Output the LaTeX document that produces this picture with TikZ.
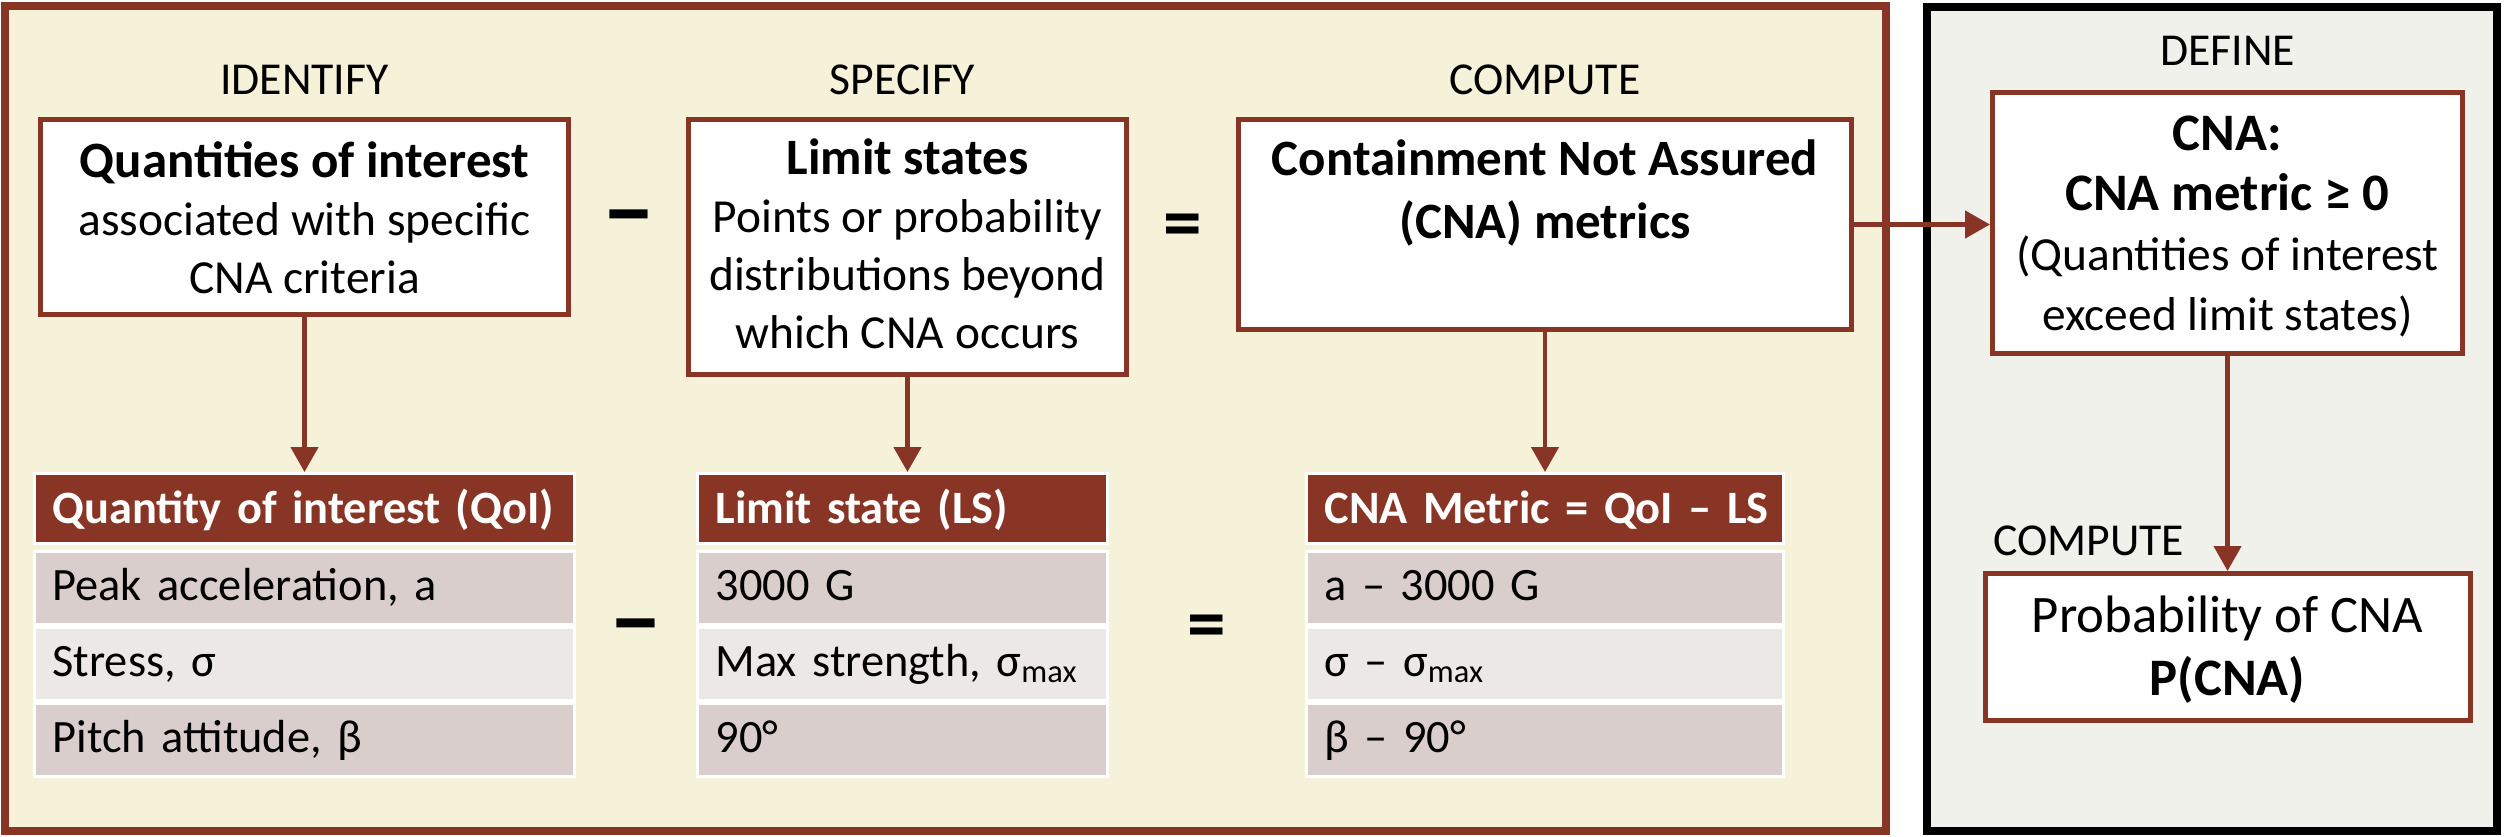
\documentclass[tikz,border=0pt]{standalone}
\usepackage{fontspec}
\setmainfont{Carlito}
\usetikzlibrary{arrows.meta,calc,positioning}
\definecolor{cnabrown}{RGB}{136,53,38}
\definecolor{cream}{RGB}{246,241,217}
\definecolor{paleGrey}{RGB}{240,241,235}
\definecolor{rowdark}{RGB}{218,206,204}
\definecolor{rowlight}{RGB}{236,232,231}
\newcommand{\boxtitle}{\fontsize{14.5}{16.5}\selectfont\bfseries}
\tikzset{
  box/.style={draw=cnabrown, line width=0.5mm, fill=white, align=center, inner xsep=0pt, inner ysep=0pt, font=\fontsize{13.5}{16.5}\selectfont},
  stage/.style={anchor=base, font=\fontsize{13}{15.6}\selectfont},
  sign/.style={text height=4.7mm, text depth=0pt, inner sep=0pt, font=\bfseries\fontsize{22}{24}\selectfont},
  minussign/.style={sign, text height=5.6mm, font=\bfseries\fontsize{28}{30}\selectfont},
  arrow/.style={-{Triangle[length=2.5mm,width=2.7mm]}, draw=cnabrown, line width=0.45mm}
}

\begin{document}
\begin{tikzpicture}[x=0.1mm, y=-0.1mm,
    thead/.style={anchor=north, fill=cnabrown, draw=white, line width=0.3mm, text=white, align=left, minimum height=7mm, inner xsep=1.8mm, inner ysep=0pt, text height=3.8mm, text depth=0.9mm, font=\bfseries\fontsize{13.2}{16}\selectfont},
    trow/.style={fill=rowdark, draw=white, line width=0.3mm, align=left, minimum height=7.3mm, inner xsep=1.8mm, inner ysep=0pt, text height=3.6mm, text depth=1.2mm, font=\fontsize{13.2}{16}\selectfont},
    trowlight/.style={trow, fill=rowlight}
]
    \useasboundingbox (0,0) rectangle (2504,836);

    % Panels
    \filldraw[draw=cnabrown, fill=cream, line width=0.75mm] (5,6) rectangle (1886,831);
    \filldraw[draw=black, fill=paleGrey, line width=0.8mm] (1927,7) rectangle (2497,831);
    \coordinate (tabtop) at (0,472);

    % Top row of boxes
    \node[box, anchor=north, minimum width=52.8mm, text height=17.35mm, text depth=2.15mm] (qoi) at (304.5,117)
        {{\boxtitle Quantities of interest}\\associated with specific\\CNA criteria};
    \node[box, right=11.5mm of qoi.north east, anchor=north west, minimum width=43.8mm, text height=22.85mm, text depth=2.65mm] (ls)
        {{\boxtitle Limit states}\\Points or probability\\distributions beyond\\which CNA occurs};
    \node[box, right=10.7mm of ls.north east, anchor=north west, minimum width=61.3mm, text height=11.85mm, text depth=9.15mm,
        font=\fontsize{14.5}{17.9}\selectfont\bfseries] (cna)
        {Containment Not Assured\\(CNA) metrics};

    \node[stage] (identify) at ([yshift=2.3mm]qoi.north) {IDENTIFY};
    \node[stage] (specify) at ([xshift=-0.5mm, yshift=2.3mm]ls.north) {SPECIFY};
    \node[stage] (compute) at ([yshift=2.3mm]cna.north) {COMPUTE};

    \node[minussign] (minus) at ($(qoi.east)!0.5!(ls.west |- qoi.east)$) {−};
    \node[sign] (equals) at ($(ls.east |- cna.west)!0.5!(cna.west)$) {=};

    % Quantity of interest table
    \node[thead, text width=50.4mm] (qoihead) at (qoi.south |- tabtop) {\mbox{Quantity of interest (QoI)}};
    \node[trow, text width=50.4mm, below=0.5mm of qoihead] (qoirow1) {Peak acceleration, a};
    \node[trowlight, text width=50.4mm, below=0pt of qoirow1] (qoirow2) {Stress, σ};
    \node[trow, text width=50.4mm, below=0pt of qoirow2] (qoirow3) {Pitch attitude, β};

    % Limit state table
    \node[thead, text width=37.4mm] (lshead) at ([xshift=-0.5mm]ls.south |- tabtop) {\mbox{Limit state (LS)}};
    \node[trow, text width=37.4mm, below=0.5mm of lshead] (lsrow1) {3000 G};
    \node[trowlight, text width=37.4mm, below=0pt of lsrow1] (lsrow2) {\mbox{Max strength, σ\textsubscript{max}}};
    \node[trow, text width=37.4mm, below=0pt of lsrow2] (lsrow3) {90°};

    % CNA metric table
    \node[thead, text width=44.1mm] (cnahead) at (cna.south |- tabtop) {\mbox{CNA Metric = QoI – LS}};
    \node[trow, text width=44.1mm, below=0.5mm of cnahead] (cnarow1) {a – 3000 G};
    \node[trowlight, text width=44.1mm, below=0pt of cnarow1] (cnarow2) {σ – σ\textsubscript{max}};
    \node[trow, text width=44.1mm, below=0pt of cnarow2] (cnarow3) {β – 90°};

    \node[minussign] (minus2) at ($(qoirow1.south east)!0.5!(lsrow1.south west)$) {−};
    \node[sign] (equals2) at ($(lsrow1.south east)!0.5!(cnarow1.south west)$) {=};

    \draw[arrow] (qoi.south) -- (qoihead.north);
    \draw[arrow] (ls.south) -- (ls.south |- lshead.north);
    \draw[arrow] (cna.south) -- (cnahead.north);

    % Define / compute panel
    \node[box, anchor=north, minimum width=47mm, text height=23.75mm, text depth=2.35mm,
        font=\fontsize{13.5}{17}\selectfont] (def) at (2227.5,90)
        {{\fontsize{15}{18}\selectfont\bfseries CNA:}\\{\fontsize{15}{18}\selectfont\bfseries CNA metric ≥ 0}\\(Quantities of interest\\exceed limit states)};
    \node[stage] (define) at ([yshift=2.5mm]def.north) {DEFINE};

    \node[box, below=21.5mm of def, minimum width=48.5mm, text height=12.15mm, text depth=2.55mm,
        font=\fontsize{15}{17.9}\selectfont] (pcna)
        {Probability of CNA\\\textbf{P(CNA)}};
    \node[stage, anchor=base east] (compute2) at ([xshift=-3.1mm, yshift=1.6mm]pcna.north) {COMPUTE};

    \draw[arrow] (cna.east) -- (cna.east -| def.west);
    \draw[arrow] (def.south) -- (def.south |- pcna.north);

\end{tikzpicture}
\end{document}
